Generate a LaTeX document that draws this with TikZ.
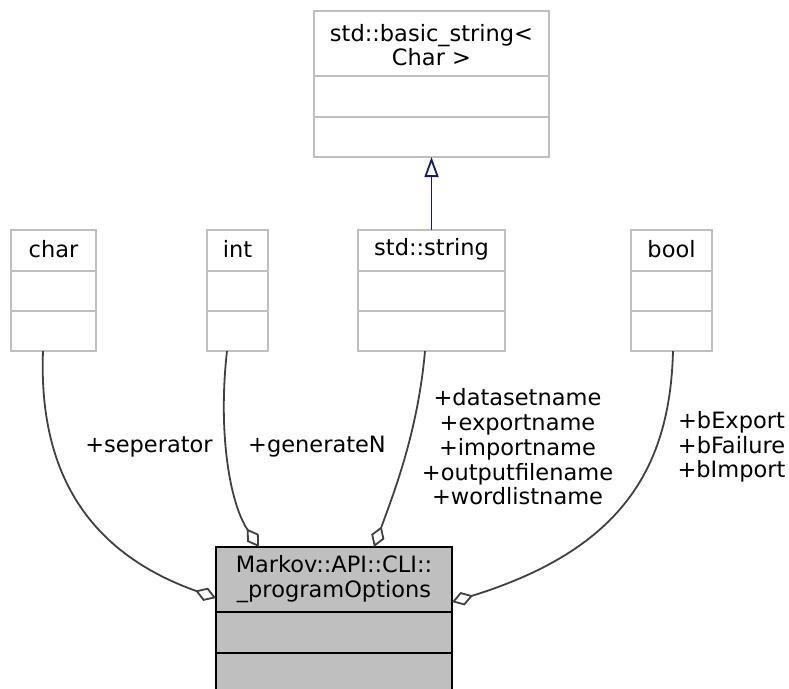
\documentclass[tikz,border=0pt]{standalone}
\usepackage{fontspec}
\setmainfont{DejaVu Sans}
\usetikzlibrary{arrows.meta,calc}
\definecolor{boxgray}{HTML}{BFBFBF}
\definecolor{edgegray}{HTML}{404040}
\definecolor{inhblue}{HTML}{191970}

% class box: name, x1, y1, x2, y2, divider 1, divider 2, style prefix
\newcommand{\umlbox}[8]{%
  \node[#8box, minimum width={#4-#2}, minimum height={#5-#3}] (#1)
    at ({(#2+#4)/2},{(#3+#5)/2}) {};
  \draw[#8rule] (#2,#6) -- (#4,#6) (#2,#7) -- (#4,#7);
}

\begin{document}
\begin{tikzpicture}[x=1pt,y=-1pt,
  font=\fontsize{22.5}{24.75}\selectfont,
  plainbox/.style={draw=boxgray, line width=2pt, fill=white, inner sep=0pt, outer sep=0pt},
  plainrule/.style={draw=boxgray, line width=2pt},
  mainbox/.style={draw=black, line width=2pt, fill=boxgray, inner sep=0pt, outer sep=0pt},
  mainrule/.style={draw=black, line width=2pt},
  title/.style={inner sep=0pt, align=center, text=black},
  lbl/.style={inner sep=0pt, align=center, text=black},
  aggr/.style={draw=edgegray, line width=1.8pt,
    -{Diamond[open, length=22pt, width=14pt, line width=1.8pt]}},
  inherit/.style={draw=inhblue, line width=1.8pt,
    -{Triangle[open, length=20pt, width=14pt, line width=1.8pt]}}]

\useasboundingbox (0,0) rectangle (789,688);

% classes
\umlbox{bs}{314}{11}{549}{157}{76}{117}{plain}
\node[title] (bs-t) at (431.5,45) {std::basic\_string<\\Char >};

\umlbox{char}{11}{230}{96}{351}{271}{311}{plain}
\node[title] (char-t) at (53.5,249) {char};

\umlbox{int}{207}{230}{268}{351}{271}{311}{plain}
\node[title] (int-t) at (237.5,249) {int};

\umlbox{str}{358}{230}{505}{351}{271}{311}{plain}
\node[title] (str-t) at (431.5,249) {std::string};

\umlbox{bool}{631}{230}{712}{351}{271}{311}{plain}
\node[title] (bool-t) at (671.5,249) {bool};

\umlbox{main}{216}{547}{452}{700}{612}{653}{main}
\node[title] (main-t) at (334,579) {Markov::API::CLI::\\\_programOptions};

% inheritance
\draw[inherit] (str.north) -- (bs.south);

% aggregation connectors
\draw[aggr] ($(char.south)+(-10.5,0)$)
  .. controls (38,480) and (95,555) .. ($(main.north west)+(0,51)$);
\draw[aggr] ($(int.south)+(-10.5,0)$)
  .. controls (218,430) and (229,502) .. ($(main.north west)+(43,0)$);
\draw[aggr] ($(str.south)+(-6.5,0)$)
  .. controls (418,430) and (395,490) .. ($(main.north west)+(158,0)$);
\draw[aggr] ($(bool.south)+(1.5,0)$)
  .. controls (670,470) and (620,550) .. ($(main.north east)+(0,55)$);

% member labels
\node[lbl] (l-char) at (149,447) {+seperator};
\node[lbl] (l-int) at (317,447) {+generateN};
\node[lbl] (l-str) at (517.5,447) {+datasetname\\+exportname\\+importname\\+outputfilename\\+wordlistname};
\node[lbl] (l-bool) at (731.5,447) {+bExport\\+bFailure\\+bImport};
\end{tikzpicture}
\end{document}
